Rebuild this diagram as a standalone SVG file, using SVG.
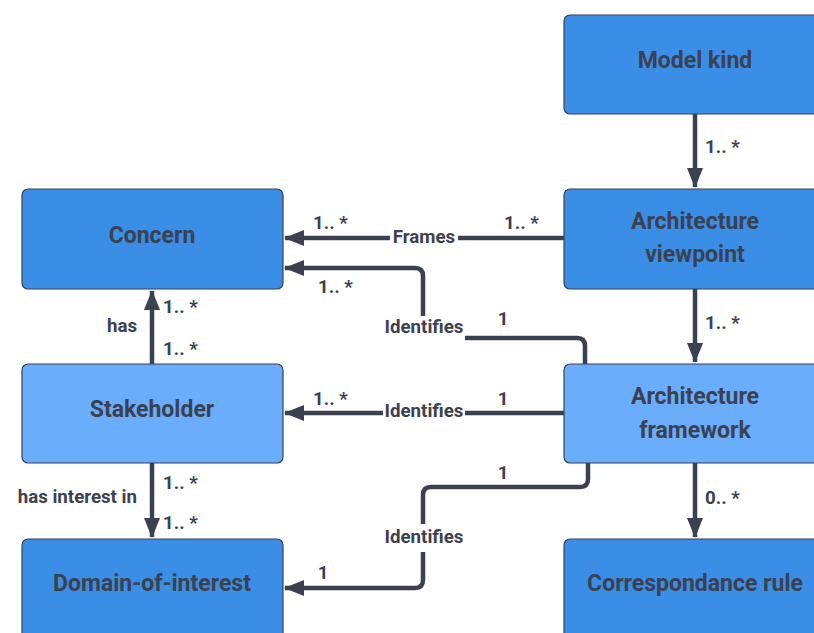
<svg xmlns="http://www.w3.org/2000/svg" width="814" height="633" viewBox="0 0 814 633">
  <style>
    .node rect { stroke: #3b4150; stroke-width: 1.2; }
    .dark rect { fill: #3a8ee6; }
    .light rect { fill: #69adfb; }
    .node text { font-family: Roboto, "Liberation Sans", sans-serif; font-weight: bold; font-size: 23px; fill: #3b4150; text-anchor: middle; }
    .link { fill: none; stroke: #3b4150; stroke-width: 4.5; stroke-linejoin: round; }
    .lbl { font-family: Roboto, "Liberation Sans", sans-serif; font-weight: bold; font-size: 18.7px; fill: #3b4150; }
    .mid { text-anchor: middle; }
    .end { text-anchor: end; }
    .bg { fill: #ffffff; }
  </style>
  <defs>
    <marker id="arrow" viewBox="0 0 20 16" refX="19" refY="8" markerWidth="20" markerHeight="16" markerUnits="userSpaceOnUse" orient="auto">
      <path d="M0,0 L20,8 L0,16 Z" fill="#3b4150"/>
    </marker>
  </defs>
  <rect width="814" height="633" fill="#ffffff"/>

  <!-- connectors -->
  <g id="connectors">
    <path class="link" d="M695,114 V187" marker-end="url(#arrow)"/>
    <path class="link" d="M564,238 H285" marker-end="url(#arrow)"/>
    <path class="link" d="M585,364 V346 Q585,338 577,338 H431 Q423,338 423,330 V276 Q423,268 415,268 H285" marker-end="url(#arrow)"/>
    <path class="link" d="M695,289 V362" marker-end="url(#arrow)"/>
    <path class="link" d="M564,413 H285" marker-end="url(#arrow)"/>
    <path class="link" d="M588,463 V479 Q588,487 580,487 H431 Q423,487 423,495 V580 Q423,588 415,588 H285" marker-end="url(#arrow)"/>
    <path class="link" d="M695,463 V537" marker-end="url(#arrow)"/>
    <path class="link" d="M152,364 V291" marker-end="url(#arrow)"/>
    <path class="link" d="M152,463 V537" marker-end="url(#arrow)"/>

    <!-- label backgrounds breaking the lines -->
    <rect class="bg" x="390" y="226" width="68" height="22"/>
    <rect class="bg" x="382" y="316" width="83" height="27"/>
    <rect class="bg" x="383" y="400" width="82" height="22"/>
    <rect class="bg" x="382" y="524" width="84" height="28"/>

    <!-- labels -->
    <text class="lbl" x="705" y="153">1.. *</text>
    <text class="lbl mid" x="424" y="243">Frames</text>
    <text class="lbl" x="313" y="229">1.. *</text>
    <text class="lbl" x="504" y="229">1.. *</text>
    <text class="lbl" x="318" y="293">1.. *</text>
    <text class="lbl mid" x="424" y="333">Identifies</text>
    <text class="lbl mid" x="503" y="325">1</text>
    <text class="lbl" x="705" y="329">1.. *</text>
    <text class="lbl end" x="137" y="332">has</text>
    <text class="lbl" x="163" y="313">1.. *</text>
    <text class="lbl" x="163" y="355">1.. *</text>
    <text class="lbl" x="313" y="405">1.. *</text>
    <text class="lbl mid" x="424" y="417">Identifies</text>
    <text class="lbl mid" x="503" y="405">1</text>
    <text class="lbl end" x="137" y="503">has interest in</text>
    <text class="lbl" x="163" y="489">1.. *</text>
    <text class="lbl" x="163" y="529">1.. *</text>
    <text class="lbl mid" x="503" y="479">1</text>
    <text class="lbl mid" x="424" y="543">Identifies</text>
    <text class="lbl mid" x="323" y="579">1</text>
    <text class="lbl" x="705" y="504">0.. *</text>
  </g>

  <!-- nodes -->
  <g id="model-kind" class="node dark">
    <rect x="564" y="15" width="262" height="99" rx="6"/>
    <text x="695" y="68">Model kind</text>
  </g>
  <g id="concern" class="node dark">
    <rect x="22" y="189" width="261" height="100" rx="6"/>
    <text x="152" y="243">Concern</text>
  </g>
  <g id="architecture-viewpoint" class="node dark">
    <rect x="564" y="189" width="262" height="100" rx="6"/>
    <text x="695" y="229">Architecture</text>
    <text x="695" y="262">viewpoint</text>
  </g>
  <g id="stakeholder" class="node light">
    <rect x="22" y="364" width="261" height="99" rx="6"/>
    <text x="152" y="417">Stakeholder</text>
  </g>
  <g id="architecture-framework" class="node light">
    <rect x="564" y="364" width="262" height="99" rx="6"/>
    <text x="695" y="404">Architecture</text>
    <text x="695" y="438">framework</text>
  </g>
  <g id="domain-of-interest" class="node dark">
    <rect x="22" y="539" width="261" height="110" rx="6"/>
    <text x="152" y="591">Domain-of-interest</text>
  </g>
  <g id="correspondance-rule" class="node dark">
    <rect x="564" y="539" width="262" height="110" rx="6"/>
    <text x="695" y="591">Correspondance rule</text>
  </g>
</svg>
